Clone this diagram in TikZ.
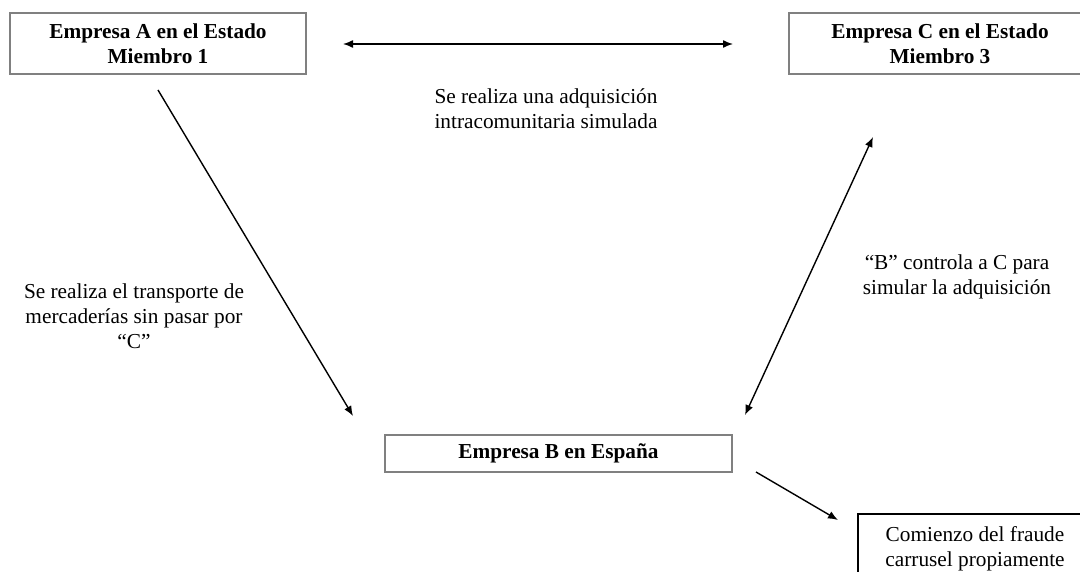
\documentclass[tikz,border=0pt]{standalone}
\usepackage{fontspec}
\setmainfont{Liberation Serif}
\usetikzlibrary{arrows.meta}
\tikzset{
  boxg/.style={draw=black!50, line width=1.5pt, align=center, font=\bfseries, inner sep=0pt},
  boxk/.style={draw=black, line width=1.2pt, align=center, inner sep=0pt},
  lbl/.style={align=center, inner sep=0pt},
  arr/.style={line width=1.4pt, -{Latex[length=10pt,width=8pt]}},
  darr/.style={line width=1.4pt, {Latex[length=10pt,width=8pt]}-{Latex[length=10pt,width=8pt]}}
}
\begin{document}
\begin{tikzpicture}[x=1pt,y=-1pt]
\fontsize{21.3}{25}\selectfont
\useasboundingbox (0,0) rectangle (1080,572);
\clip (0,0) rectangle (1080,572);
\fill[white] (0,0) rectangle (1080,572);
\node[boxg, minimum width=296pt, minimum height=61pt] (A) at (158,43.5) {Empresa A en el Estado\\Miembro 1};
\node[boxg, minimum width=302pt, minimum height=61pt] (C) at (940,43.5) {Empresa C en el Estado\\Miembro 3};
\node[boxg, minimum width=347pt, minimum height=37pt] (B) at (558.5,453.5) {Empresa B en España};
\node[boxk, minimum width=234pt, minimum height=100pt] (D) at (975,564) {};
\node[lbl] (Dt) at (975,549) {Comienzo del fraude\\carrusel propiamente};
\node[lbl] (T1) at (546,109) {Se realiza una adquisición\\intracomunitaria simulada};
\node[lbl] (T2) at (134,316) {Se realiza el transporte de\\mercaderías sin pasar por\\“C”};
\node[lbl] (T3) at (957,277) {“B” controla a C para\\simular la adquisición};
\coordinate (h1) at (343,44);
\coordinate (h2) at (733,44);
\coordinate (ab1) at (158,90);
\coordinate (ab2) at (353,416);
\coordinate (cb1) at (873,137);
\coordinate (cb2) at (745,415);
\coordinate (bd1) at (756,472);
\coordinate (bd2) at (838,520);
\draw[darr] (h1) -- (h2);
\draw[arr] (ab1) -- (ab2);
\draw[darr] (cb1) -- (cb2);
\draw[arr] (bd1) -- (bd2);
\end{tikzpicture}
\end{document}
